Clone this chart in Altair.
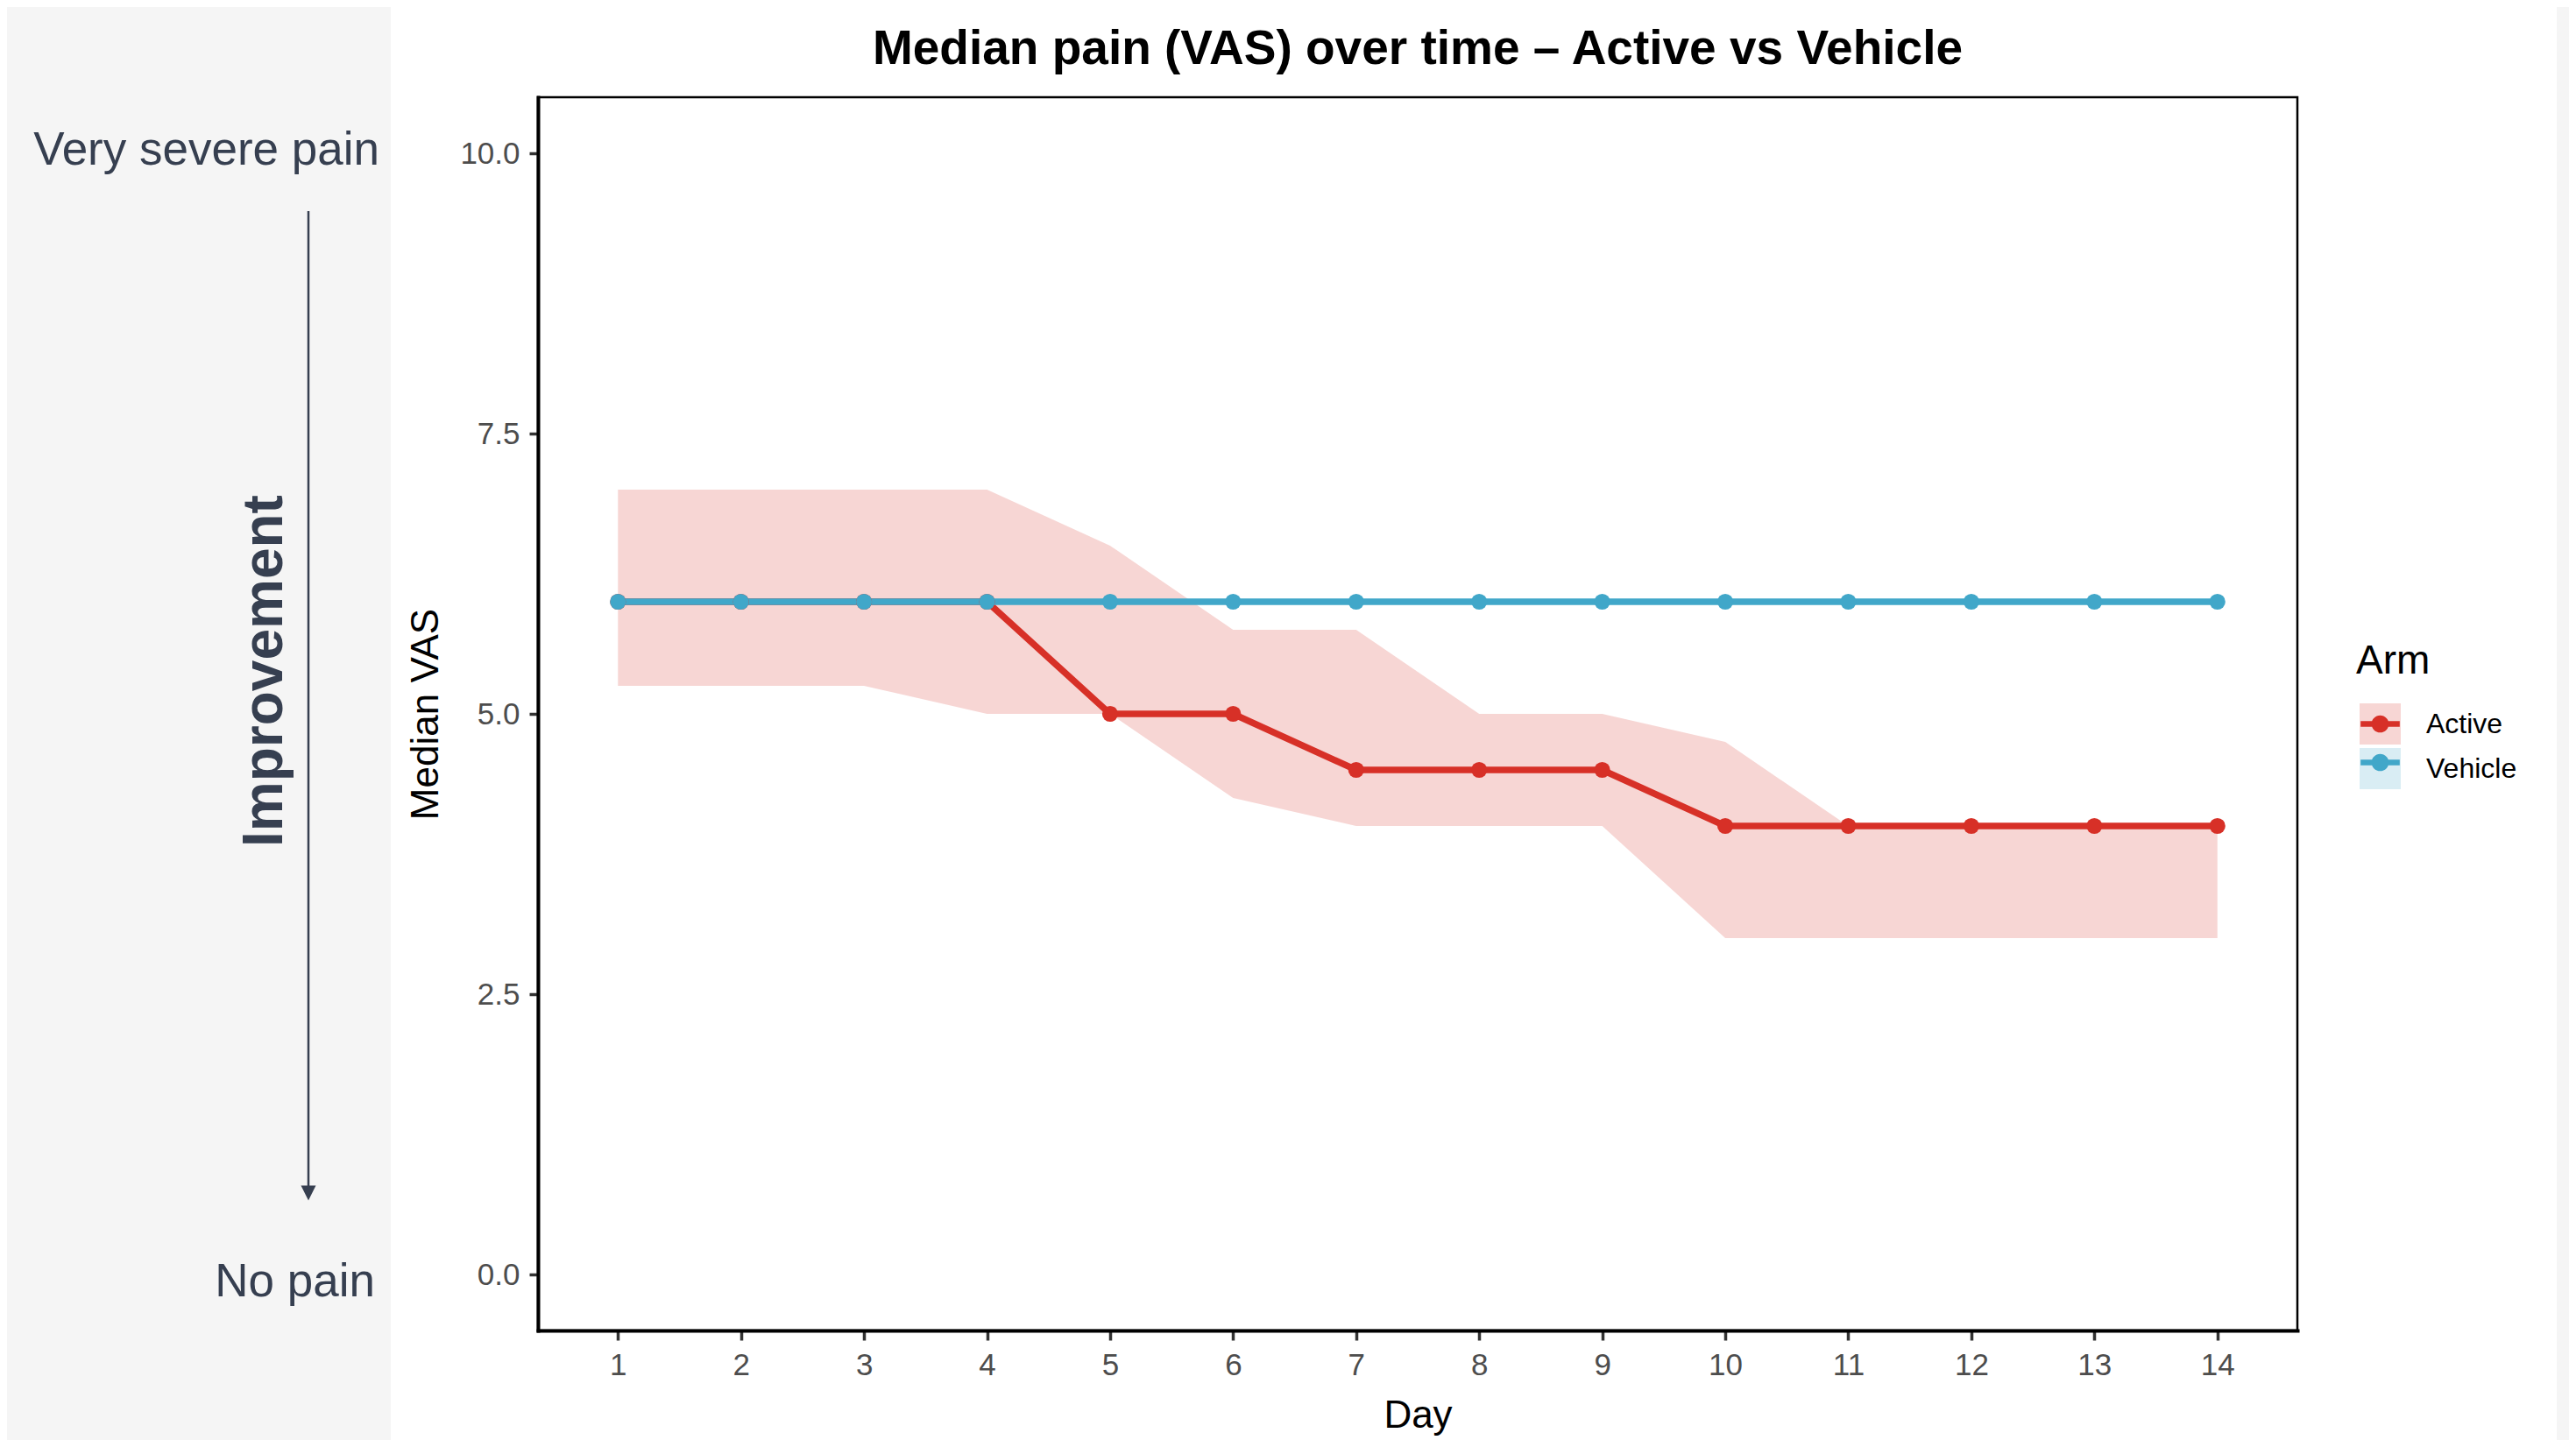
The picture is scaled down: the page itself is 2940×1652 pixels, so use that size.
import altair as alt
import pandas as pd

# ---------------- data ----------------
days = [1, 2, 3, 4, 5, 6, 7, 8, 9, 10, 11, 12, 13, 14]
arms = ["Active", "Vehicle"]
active_median = [6, 6, 6, 6, 5, 5, 4.5, 4.5, 4.5, 4, 4, 4, 4, 4]
active_lower = [5.25, 5.25, 5.25, 5, 5, 4.25, 4, 4, 4, 3, 3, 3, 3, 3]
active_upper = [7, 7, 7, 7, 6.5, 5.75, 5.75, 5, 5, 4.75, 4, 4, 4, 4]
vehicle_median = [6, 6, 6, 6, 6, 6, 6, 6, 6, 6, 6, 6, 6, 6]
vehicle_lower = [6, 6, 6, 6, 6, 6, 6, 6, 6, 6, 6, 6, 6, 6]
vehicle_upper = [6, 6, 6, 6, 6, 6, 6, 6, 6, 6, 6, 6, 6, 6]
y_ticks = [0, 2.5, 5, 7.5, 10]
x_ticks = days
line_colors = ["#d73027", "#41a7c9"]
title_text = "Median pain (VAS) over time \u2013 Active vs Vehicle"
top_label = "Very severe pain"
bottom_label = "No pain"
side_label = "Improvement"

df = pd.DataFrame({
    "Day": days + days,
    "Arm": [arms[0]] * len(days) + [arms[1]] * len(days),
    "Median": active_median + vehicle_median,
    "Lower": active_lower + vehicle_lower,
    "Upper": active_upper + vehicle_upper,
})

# ---------------- style ----------------
FONT = "Liberation Sans"
SLATE = "#363f50"
PANEL = "#f5f5f5"
W, H = 2008, 1408
BAND_ALPHA = 0.2

xs = alt.Scale(domain=[0.35, 14.65], nice=False, zero=False)
ys = alt.Scale(domain=[-0.5, 10.5], nice=False, zero=False)
xaxis = alt.Axis(values=x_ticks, format="d", grid=False, title="Day", labelFlush=False)
yaxis = alt.Axis(values=y_ticks, format=".1f", grid=False, title="Median VAS", labelFlush=False)


def X(f):
    return alt.X(f, type="quantitative", scale=xs, axis=xaxis)


def Y(f):
    return alt.Y(f, type="quantitative", scale=ys, axis=yaxis)


one = pd.DataFrame({"k": [0]})

gray_left = alt.Chart(one).mark_rect(color=PANEL).encode(
    x=alt.value(-606), x2=alt.value(-168), y=alt.value(-103), y2=alt.value(1533))
gray_right = alt.Chart(one).mark_rect(color=PANEL).encode(
    x=alt.value(2304), x2=alt.value(2318), y=alt.value(-103), y2=alt.value(1533))

LEG = dict(orient="none", legendX=2075, legendY=622, symbolSize=2209,
           symbolStrokeWidth=0, symbolOffset=4, labelFontSize=32, labelFont=FONT,
           titleFontSize=46, titleFont=FONT, titleFontWeight="normal",
           titlePadding=24, rowPadding=4, labelOffset=29)

# ribbon: same hues at 20% opacity; its legend shows the light boxes, title and labels
band = alt.Chart(df).transform_calculate(Band="datum.Arm").mark_area(
    opacity=BAND_ALPHA, strokeWidth=0).encode(
    x=X("Day"), y=Y("Lower"), y2="Upper",
    fill=alt.Fill("Band:N", scale=alt.Scale(range=line_colors),
                  legend=alt.Legend(title="Arm", symbolType="square",
                                    symbolOpacity=BAND_ALPHA, labelColor="black",
                                    titleColor="black", **LEG)))

legend_path = ("M-0.95,-0.14L0.95,-0.14L0.95,0.14L-0.95,0.14Z"
               "M0.42,0A0.42,0.42 0 1,1 -0.42,0A0.42,0.42 0 1,1 0.42,0Z")

# stroke scale uses the data domain so its (disabled) legend is not merged with the dot legend
lines = alt.Chart(df).mark_line(strokeWidth=7.5).encode(
    x=X("Day"), y=Y("Median"),
    stroke=alt.Stroke("Arm:N", scale=alt.Scale(range=line_colors), legend=None))

# line+dot legend symbols drawn over the boxes (no text of its own)
points = alt.Chart(df).mark_point(filled=True, size=330, opacity=1).encode(
    x=X("Day"), y=Y("Median"),
    color=alt.Color("Arm:N", scale=alt.Scale(domain=arms, range=line_colors),
                    legend=alt.Legend(title=" ", symbolType=legend_path, symbolOpacity=1,
                                      labelExpr="''", labelOpacity=0, titleOpacity=0,
                                      **LEG)))

arrow = alt.Chart(one).mark_rule(color=SLATE, strokeWidth=2.5).encode(
    x=alt.value(-262), y=alt.value(130), y2=alt.value(1245))
arrowhead = alt.Chart(one).mark_point(shape="M-1,-1L1,-1L0,1Z", filled=True, size=289,
                                      color=SLATE, opacity=1).encode(
    x=alt.value(-262), y=alt.value(1251))

improvement = alt.Chart(pd.DataFrame({"t": [side_label]})).mark_text(
    angle=270, font=FONT, fontSize=64, fontWeight="bold", color=SLATE,
    align="center", baseline="alphabetic").encode(
    text="t:N", x=alt.value(-292), y=alt.value(655))

top_lbl = alt.Chart(pd.DataFrame({"label": [top_label], "val": [10]})).mark_text(
    font=FONT, fontSize=53, color=SLATE, align="right", baseline="middle", dy=-3).encode(
    text="label:N", x=alt.value(-181), y=Y("val"))
bottom_lbl = alt.Chart(pd.DataFrame({"label": [bottom_label], "val": [0]})).mark_text(
    font=FONT, fontSize=53, color=SLATE, align="right", baseline="middle", dy=9).encode(
    text="label:N", x=alt.value(-186), y=Y("val"))

title = alt.Chart(pd.DataFrame({"t": [title_text]})).mark_text(
    font=FONT, fontSize=55, fontWeight="bold", color="black",
    align="center", baseline="alphabetic").encode(
    text="t:N", x=alt.value(W / 2), y=alt.value(-38))

chart = alt.layer(
    gray_left, gray_right, band, lines, points, arrow, arrowhead,
    improvement, top_lbl, bottom_lbl, title
).properties(
    width=W, height=H, padding=0, background="white"
).configure_view(
    stroke="black", strokeWidth=2.5
).configure_axis(
    labelFont=FONT, titleFont=FONT, domainColor="black", domainWidth=4, domainCap="square",
    tickColor="#333333", tickWidth=3.5, tickSize=10, labelFontSize=35, labelColor="#4d4d4d",
    titleFontSize=44, titleFontWeight="normal", titleColor="black", labelPadding=11
).configure_axisX(
    titlePadding=18, tickSize=11
).configure_axisY(
    titlePadding=16
)

chart.save("out.html", embed_options={"renderer": "svg", "actions": False})
